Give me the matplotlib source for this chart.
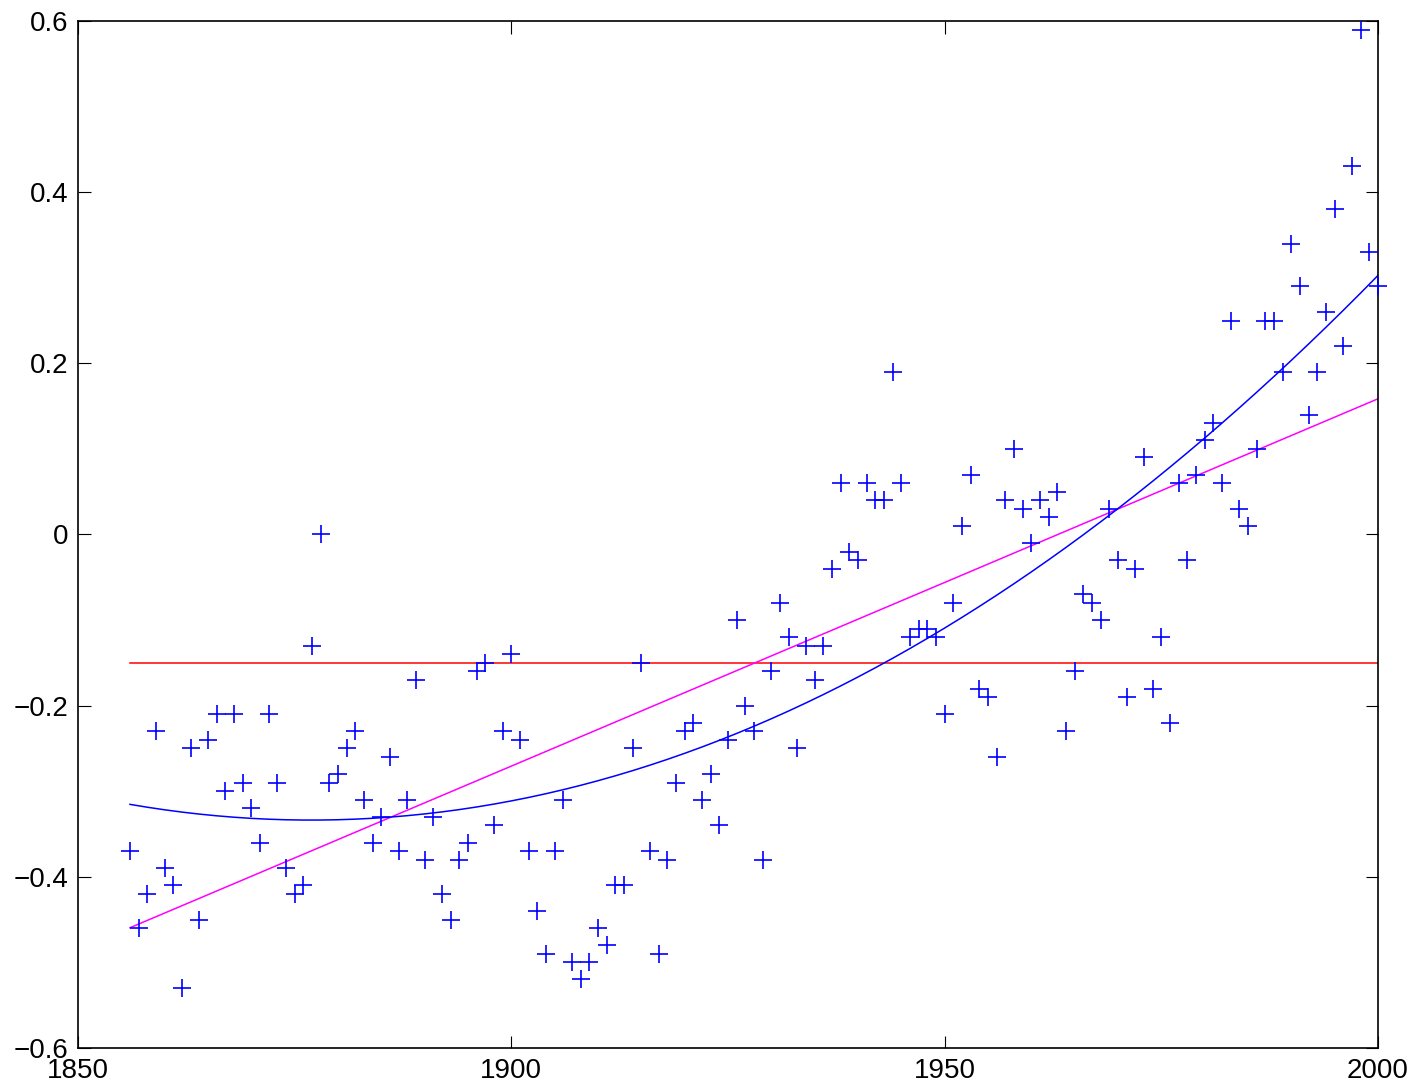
import numpy as np
import matplotlib
matplotlib.use('Agg')
import matplotlib.pyplot as plt

# 年平均温度距平 (1856-2000)
years = np.arange(1856, 2001)
anomaly = [
    -0.37, -0.46, -0.42, -0.23, -0.39, -0.41, -0.53, -0.25, -0.45, -0.24,  # 1856-1865
    -0.21, -0.30, -0.21, -0.29, -0.32, -0.36, -0.21, -0.29, -0.39, -0.42,  # 1866-1875
    -0.41, -0.13, 0.00, -0.29, -0.28, -0.25, -0.23, -0.31, -0.36, -0.33,   # 1876-1885
    -0.26, -0.37, -0.31, -0.17, -0.38, -0.33, -0.42, -0.45, -0.38, -0.36,  # 1886-1895
    -0.16, -0.15, -0.34, -0.23, -0.14, -0.24, -0.37, -0.44, -0.49, -0.37,  # 1896-1905
    -0.31, -0.50, -0.52, -0.50, -0.46, -0.48, -0.41, -0.41, -0.25, -0.15,  # 1906-1915
    -0.37, -0.49, -0.38, -0.29, -0.23, -0.22, -0.31, -0.28, -0.34, -0.24,  # 1916-1925
    -0.10, -0.20, -0.23, -0.38, -0.16, -0.08, -0.12, -0.25, -0.13, -0.17,  # 1926-1935
    -0.13, -0.04, 0.06, -0.02, -0.03, 0.06, 0.04, 0.04, 0.19, 0.06,        # 1936-1945
    -0.12, -0.11, -0.11, -0.12, -0.21, -0.08, 0.01, 0.07, -0.18, -0.19,    # 1946-1955
    -0.26, 0.04, 0.10, 0.03, -0.01, 0.04, 0.02, 0.05, -0.23, -0.16,        # 1956-1965
    -0.07, -0.08, -0.10, 0.03, -0.03, -0.19, -0.04, 0.09, -0.18, -0.12,    # 1966-1975
    -0.22, 0.06, -0.03, 0.07, 0.11, 0.13, 0.06, 0.25, 0.03, 0.01,          # 1976-1985
    0.10, 0.25, 0.25, 0.19, 0.34, 0.29, 0.14, 0.19, 0.26, 0.38,            # 1986-1995
    0.22, 0.43, 0.59, 0.33, 0.29,                                          # 1996-2000
]
anomaly = np.array(anomaly)

# 0 次 / 1 次 / 2 次多项式拟合
fit0 = np.polyval(np.polyfit(years, anomaly, 0), years)
fit1 = np.polyval(np.polyfit(years, anomaly, 1), years)
fit2 = np.polyval(np.polyfit(years, anomaly, 2), years)

plt.rcParams['font.family'] = ['Liberation Sans', 'DejaVu Sans']

fig = plt.figure(figsize=(14.18, 10.89), dpi=100)
ax = fig.add_axes([0.055, 0.0377, 0.9168, 0.943])

ax.plot(years, anomaly, '+', color='#0000ff', markersize=13,
        markeredgewidth=1.2, clip_on=False, zorder=3)
ax.plot(years, fit0, color='#ff0000', linewidth=1.1)
ax.plot(years, fit1, color='#ff00ff', linewidth=1.1)
ax.plot(years, fit2, color='#0000ff', linewidth=1.1)

ax.set_xlim(1850, 2000)
ax.set_ylim(-0.6, 0.6)
ax.set_xticks([1850, 1900, 1950, 2000])
ax.set_yticks([-0.6, -0.4, -0.2, 0, 0.2, 0.4, 0.6])
ax.set_yticklabels(['\u22120.6', '\u22120.4', '\u22120.2', '0', '0.2', '0.4', '0.6'])
ax.tick_params(direction='in', length=9, width=0.8, labelsize=20,
               top=True, right=True, pad=7)
for s in ax.spines.values():
    s.set_linewidth(1.2)

plt.savefig('out.png', dpi=100)
